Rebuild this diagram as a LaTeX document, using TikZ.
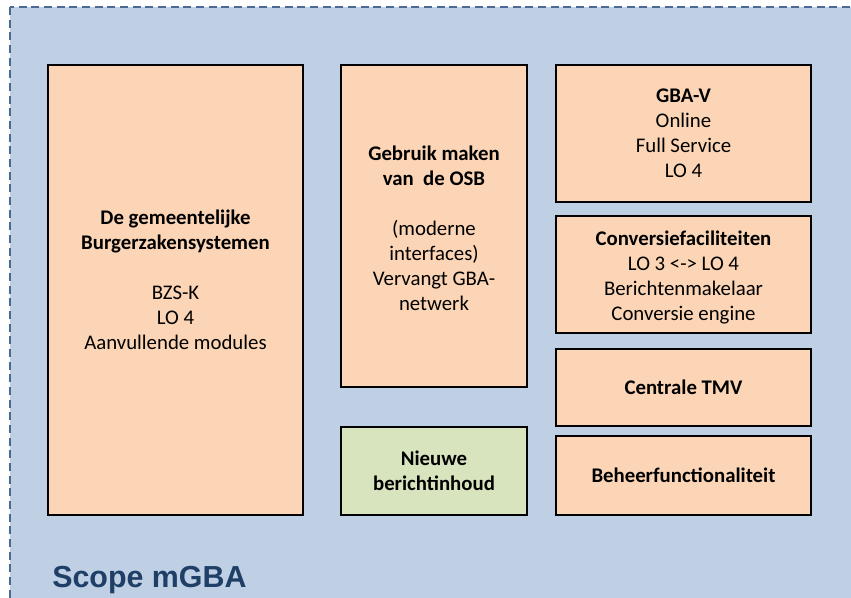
\documentclass[tikz,border=0pt]{standalone}
\usepackage{fontspec}
\setmainfont{Carlito}
\newfontfamily\titlefont{Liberation Sans}
\definecolor{scopebg}{HTML}{BFD0E5}
\definecolor{scopeline}{HTML}{4A6A94}
\definecolor{boxorange}{HTML}{FBD5B5}
\definecolor{boxgreen}{HTML}{D7E4BD}
\definecolor{titleblue}{HTML}{1F3F66}
\tikzset{
  px/.style={x=0.75pt,y=-0.75pt},
  boxnode/.style={draw=black, line width=1.2pt, fill=boxorange,
    inner sep=0pt, outer sep=0pt, anchor=north west},
  greenbox/.style={boxnode, fill=boxgreen},
  boxtext/.style={align=center, inner sep=0pt,
    font=\fontsize{15.6}{18.75}\selectfont},
}
\begin{document}
\begin{tikzpicture}[px]
\useasboundingbox (0,0) rectangle (851,598);
\clip (0,0) rectangle (851,598);
\draw[fill=scopebg, draw=scopeline, line width=1.5pt, dash pattern=on 6pt off 3.5pt] (10,7) rectangle (880,640);

\node[boxnode, minimum width=191.25pt, minimum height=337.5pt] (burger) at (48,65) {};
\node[boxtext, yshift=7.5pt] (burgertxt) at (burger.center)
  {\textbf{De gemeentelijke}\\\textbf{Burgerzakensystemen}\\[18.75pt]BZS-K\\LO 4\\Aanvullende modules};

\node[boxnode, minimum width=139.5pt, minimum height=241.5pt] (osb) at (341,65) {};
\node[boxtext, yshift=-1.5pt] (osbtxt) at (osb.center)
  {\textbf{Gebruik maken}\\\textbf{van\ \ de OSB}\\[18.75pt](moderne\\interfaces)\\Vervangt GBA-\\netwerk};

\node[greenbox, minimum width=139.5pt, minimum height=66pt] (nieuw) at (341,427) {};
\node[boxtext] (nieuwtxt) at (nieuw.center) {\textbf{Nieuwe}\\\textbf{berichtinhoud}};

\node[boxnode, minimum width=191.25pt, minimum height=102.75pt] (gbav) at (556,65) {};
\node[boxtext] (gbavtxt) at (gbav.center) {\textbf{GBA-V}\\Online\\Full Service\\LO 4};

\node[boxnode, minimum width=191.25pt, minimum height=87.75pt] (conv) at (556,216) {};
\node[boxtext, yshift=-2.25pt] (convtxt) at (conv.center)
  {\textbf{Conversiefaciliteiten}\\LO 3 <-> LO 4\\Berichtenmakelaar\\Conversie engine};

\node[boxnode, minimum width=191.25pt, minimum height=57.75pt] (tmv) at (556,349) {};
\node[boxtext] (tmvtxt) at (tmv.center) {\textbf{Centrale TMV}};

\node[boxnode, minimum width=191.25pt, minimum height=59.25pt] (beheer) at (556,436) {};
\node[boxtext] (beheertxt) at (beheer.center) {\textbf{Beheerfunctionaliteit}};

\node[anchor=base west, inner sep=0pt, text=titleblue, font=\titlefont\bfseries\fontsize{22.8}{26}\selectfont] (title) at (52,588) {Scope mGBA};
\end{tikzpicture}
\end{document}
